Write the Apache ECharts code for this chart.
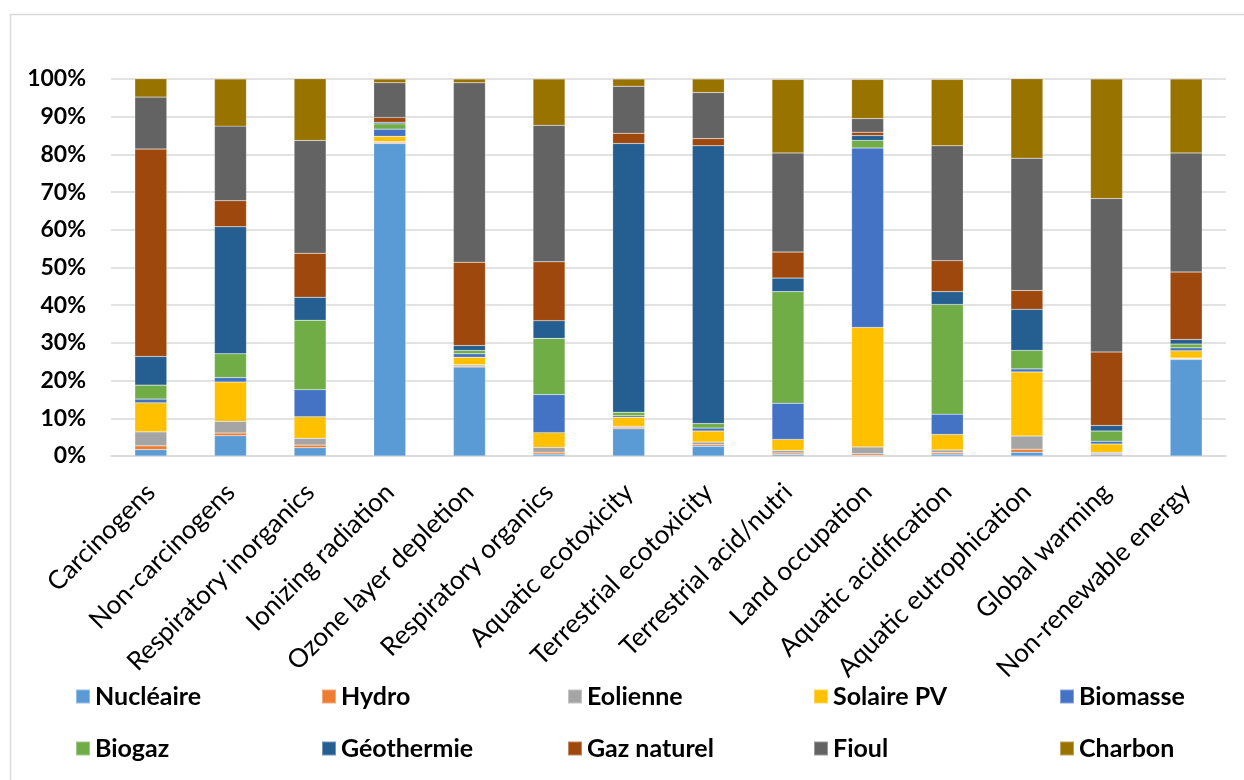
<!DOCTYPE html>
<html>
<head>
<meta charset="utf-8">
<script src="https://cdn.jsdelivr.net/npm/echarts@6/dist/echarts.min.js"></script>
<style>
html,body{margin:0;padding:0;background:#fff;}
#chart{width:1244px;height:780px;}
</style>
</head>
<body>
<div id="chart"></div>
<script>
const categories = ["Carcinogens","Non-carcinogens","Respiratory inorganics","Ionizing radiation","Ozone layer depletion","Respiratory organics","Aquatic ecotoxicity","Terrestrial ecotoxicity","Terrestrial acid/nutri","Land occupation","Aquatic acidification","Aquatic eutrophication","Global warming","Non-renewable energy"];
const yTicks = [0,10,20,30,40,50,60,70,80,90,100];

const nucleaire  = [1.7, 5.4, 2.2, 82.9, 23.6, 0.5, 7.2, 2.6, 0.4, 0.2, 0.5, 1.0, 0.3, 25.6];
const hydro      = [1.0, 0.7, 0.7, 0.3, 0.3, 0.5, 0.4, 0.4, 0.4, 0.4, 0.4, 0.8, 0.3, 0.2];
const eolienne   = [3.7, 3.1, 1.8, 0.2, 0.3, 1.3, 0.3, 0.7, 0.7, 1.8, 0.7, 3.5, 0.4, 0.2];
const solaire    = [7.7, 10.4, 5.7, 1.4, 2.0, 3.9, 2.4, 2.9, 2.9, 31.7, 4.1, 17.0, 2.2, 1.9];
const biomasse   = [1.0, 1.2, 7.2, 1.9, 0.9, 10.1, 0.4, 0.8, 9.6, 47.6, 5.4, 0.8, 0.7, 0.8];
const biogaz     = [3.7, 6.3, 18.4, 1.4, 0.9, 14.9, 0.9, 1.2, 29.6, 2.0, 29.1, 4.9, 2.7, 1.0];
const geothermie = [7.6, 33.7, 6.1, 0.4, 1.3, 4.7, 71.3, 73.7, 3.6, 1.3, 3.4, 10.9, 1.5, 1.2];
const gazNaturel = [55.0, 6.9, 11.7, 1.3, 22.1, 15.6, 2.7, 1.9, 6.9, 0.9, 8.2, 5.0, 19.5, 17.9];
const fioul      = [13.8, 19.8, 29.9, 9.2, 47.6, 36.2, 12.5, 12.2, 26.3, 3.6, 30.5, 35.1, 40.7, 31.6];
const charbon    = [4.9, 12.5, 16.4, 1.0, 1.0, 12.3, 1.9, 3.6, 19.5, 10.4, 17.6, 21.1, 31.7, 19.6];

const seriesNames = ["Nucléaire","Hydro","Eolienne","Solaire PV","Biomasse","Biogaz","Géothermie","Gaz naturel","Fioul","Charbon"];
const seriesData = [nucleaire, hydro, eolienne, solaire, biomasse, biogaz, geothermie, gazNaturel, fioul, charbon];
const colors = ["#5B9BD5","#ED7D31","#A5A5A5","#FFC000","#4472C4","#70AD47","#255E91","#9E480E","#636363","#997300"];

const font = "Lato, 'Open Sans', sans-serif";
const chart = echarts.init(document.getElementById('chart'), null, {renderer:'canvas'});

const legends = seriesNames.map((n, i) => ({
  orient: 'horizontal',
  left: 70 + 246 * (i % 5),
  top: i < 5 ? 679 : 731,
  itemWidth: 14,
  itemHeight: 14,
  itemGap: 6,
  icon: 'rect',
  selectedMode: false,
  data: [n],
  textStyle: {fontFamily: font, fontWeight: 'bold', fontSize: 25, color: '#000'}
}));

chart.setOption({
  animation: false,
  color: colors,
  graphic: [{
    type: 'rect', left: 8, top: 12,
    shape: {width: 1300, height: 800},
    style: {fill: 'none', stroke: '#d9d9d9', lineWidth: 1.5},
    silent: true, z: -1
  }],
  legend: legends,
  grid: {left: 111, right: 18, top: 79, bottom: 324, containLabel: false},
  xAxis: {
    type: 'category',
    data: categories,
    axisLine: {show: true, lineStyle: {color: '#d9d9d9', width: 1.5}},
    axisTick: {show: false},
    axisLabel: {rotate: 45, interval: 0, margin: 32, fontFamily: font, fontSize: 26, color: '#000'}
  },
  yAxis: {
    type: 'value',
    min: yTicks[0], max: yTicks[yTicks.length-1], interval: 10,
    axisLine: {show: false},
    axisTick: {show: false},
    splitLine: {lineStyle: {color: '#d9d9d9', width: 1.5}},
    axisLabel: {formatter: '{value}%', margin: 25, fontFamily: font, fontWeight: 'bold', fontSize: 23, color: '#000'}
  },
  series: seriesNames.map((n, i) => ({
    name: n,
    type: 'bar',
    stack: 'total',
    barWidth: 32,
    data: seriesData[i],
    itemStyle: {color: colors[i], borderColor: 'rgba(255,255,255,0.35)', borderWidth: 0.5}
  }))
});
</script>
</body>
</html>
